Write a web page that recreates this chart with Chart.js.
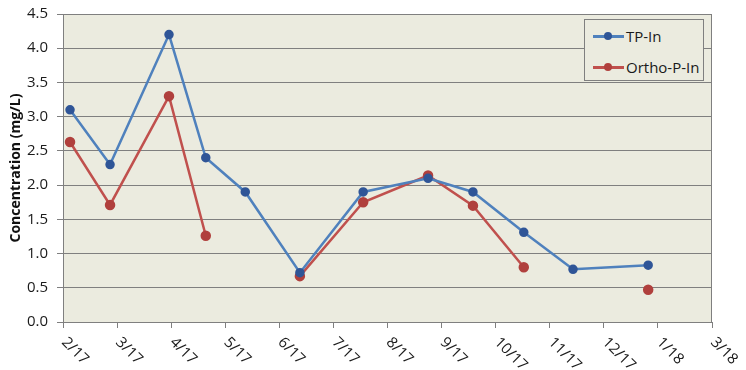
<!DOCTYPE html>
<html>
<head>
<meta charset="utf-8">
<script src="https://cdn.jsdelivr.net/npm/chart.js@4.4.1/dist/chart.umd.min.js"></script>
<style>
  html, body { margin: 0; padding: 0; background: #fff; }
  #wrap { position: relative; width: 746px; height: 370px; }
  #legend {
    position: absolute; left: 584px; top: 19px; width: 118px; height: 60px;
    background: #ebebdf; border: 1px solid #7f7f7f;
    font-family: 'Open Sans', sans-serif; font-size: 15px; color: #1a1a1a;
  }
  .item { position: absolute; left: 8px; height: 20px; line-height: 20px; white-space: nowrap; }
  .swatch { display: inline-block; position: relative; width: 31px; height: 20px; vertical-align: top; margin-right: 2px; }
  .swatch i { position: absolute; left: 0; right: 0; top: 9px; height: 2.5px; }
  .swatch b { position: absolute; left: 11px; top: 6px; width: 8px; height: 8px; border-radius: 50%; }
</style>
</head>
<body>
<div id="wrap">
  <canvas id="chart" width="746" height="370"></canvas>
  <div id="legend">
    <div class="item" style="top:6px"><span class="swatch"><i style="background:#4f81bd"></i><b style="background:#2f5597"></b></span>TP-In</div>
    <div class="item" style="top:37px"><span class="swatch"><i style="background:#c0504d"></i><b style="background:#b0403d"></b></span>Ortho-P-In</div>
  </div>
</div>
<script>
(function () {
  'use strict';

  // month ticks on the date axis
  var tickLabels = ['2/17', '3/17', '4/17', '5/17', '6/17', '7/17', '8/17', '9/17', '10/17', '11/17', '12/17', '1/18', '3/18'];
  // sample dates, in tick units from 2/17
  var sampleX  = [0.13, 0.87, 1.96, 2.64, 3.37, 4.38, 5.55, 6.75, 7.58, 8.52, 9.43, 10.82];
  var tpIn     = [3.1, 2.3, 4.2, 2.4, 1.9, 0.72, 1.9, 2.1, 1.9, 1.31, 0.77, 0.83];
  var orthoIn  = [2.63, 1.71, 3.3, 1.26, null, 0.67, 1.75, 2.14, 1.7, 0.8, null, 0.47];

  var GRID = '#7f7f7f';
  var FONT = "'Open Sans', sans-serif";

  function toPoints(vals) {
    return vals.map(function (v, i) { return { x: sampleX[i], y: v }; });
  }

  var plotBg = {
    id: 'plotBg',
    beforeDraw: function (chart) {
      var a = chart.chartArea, ctx = chart.ctx;
      ctx.save();
      ctx.fillStyle = '#ebebdf';
      ctx.fillRect(a.left, a.top, a.right - a.left, a.bottom - a.top);
      ctx.restore();
    },
    afterDraw: function (chart) {
      var a = chart.chartArea, ctx = chart.ctx;
      var sc = chart.scales.x;
      ctx.save();
      ctx.strokeStyle = GRID;
      ctx.lineWidth = 1;
      ctx.strokeRect(a.left + 0.5, a.top + 0.5, a.right - a.left - 1, a.bottom - a.top);
      // slanted month labels, reading down to the right
      ctx.font = '15px ' + FONT;
      ctx.fillStyle = '#1a1a1a';
      ctx.textAlign = 'left';
      ctx.textBaseline = 'middle';
      sc.ticks.forEach(function (t) {
        var px = sc.getPixelForValue(t.value);
        ctx.save();
        ctx.translate(px + 1, sc.top + 18);
        ctx.rotate(Math.PI / 4);
        ctx.fillText(tickLabels[t.value], 0, 0);
        ctx.restore();
      });
      ctx.restore();
    }
  };

  new Chart(document.getElementById('chart'), {
    type: 'line',
    data: {
      datasets: [
        {
          label: 'TP-In',
          data: toPoints(tpIn),
          borderColor: '#4f81bd',
          backgroundColor: '#2f5597',
          pointBackgroundColor: '#2f5597',
          pointBorderColor: '#2f5597',
          pointRadius: 3.5,
          borderWidth: 2.5,
          tension: 0,
          spanGaps: false
        },
        {
          label: 'Ortho-P-In',
          data: toPoints(orthoIn),
          borderColor: '#c0504d',
          backgroundColor: '#b0403d',
          pointBackgroundColor: '#b0403d',
          pointBorderColor: '#b0403d',
          pointRadius: 4,
          borderWidth: 2.5,
          tension: 0,
          spanGaps: false
        }
      ]
    },
    options: {
      responsive: false,
      animation: false,
      layout: { padding: { left: 8, right: 34, top: 14, bottom: 0 } },
      plugins: { legend: { display: false }, tooltip: { enabled: false } },
      scales: {
        x: {
          type: 'linear',
          min: 0,
          max: 12,
          afterBuildTicks: function (s) {
            s.ticks = tickLabels.map(function (l, i) { return { value: i }; });
          },
          afterFit: function (s) {
            s.height = 48;
            s.paddingLeft = 0;
            s.paddingRight = 0;
          },
          grid: { drawOnChartArea: false, color: GRID, tickLength: 6 },
          border: { color: GRID },
          ticks: { color: 'rgba(0,0,0,0)', maxRotation: 0, minRotation: 0, autoSkip: false }
        },
        y: {
          min: 0,
          max: 4.5,
          afterFit: function (s) {
            s.width = 55;
            s.paddingTop = 0;
            s.paddingBottom = 0;
          },
          grid: { color: GRID, tickLength: 6 },
          border: { color: GRID },
          ticks: {
            stepSize: 0.5,
            padding: 9,
            color: '#1a1a1a',
            font: { family: FONT, size: 15 },
            callback: function (v) { return v.toFixed(1); }
          },
          title: {
            display: true,
            text: 'Concentration (mg/L)',
            color: '#111',
            padding: 0,
            font: { family: FONT, size: 14, weight: 'bold' }
          }
        }
      }
    },
    plugins: [plotBg]
  });
})();
</script>
</body>
</html>
